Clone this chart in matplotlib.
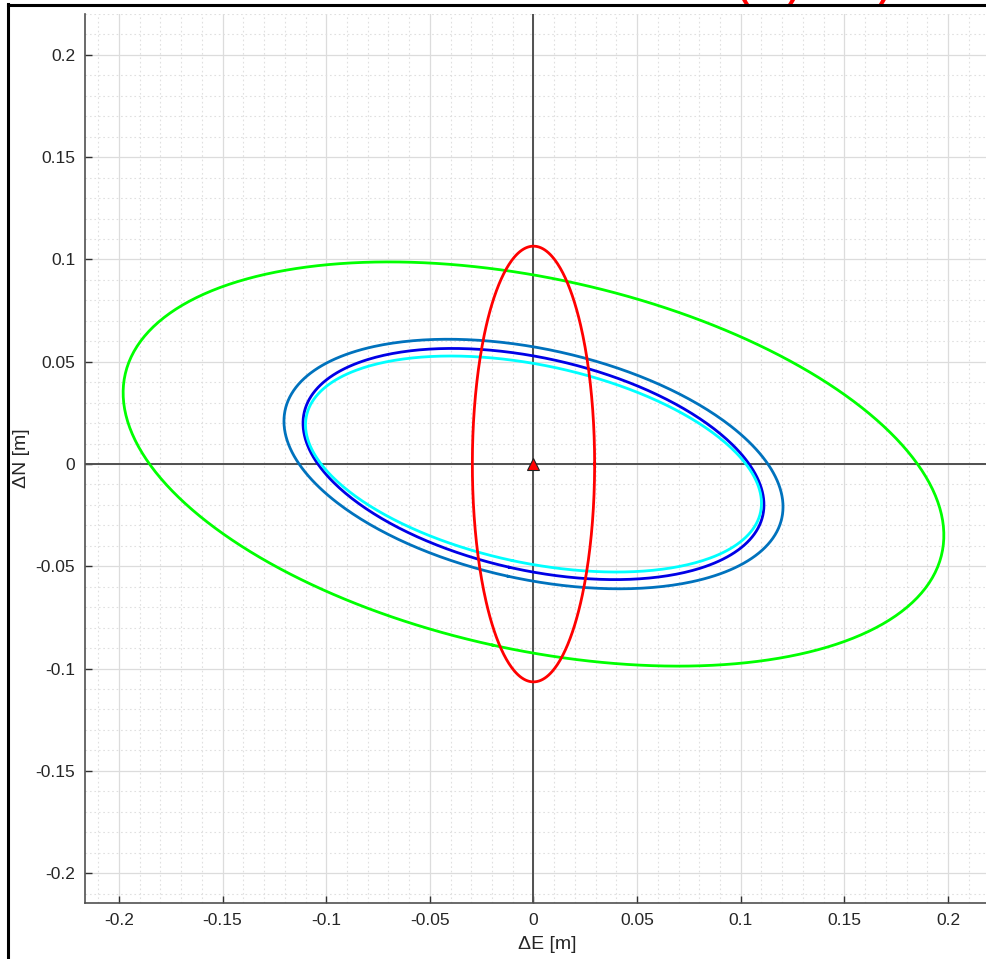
import numpy as np
import matplotlib
matplotlib.use("Agg")
import matplotlib.pyplot as plt
from matplotlib.lines import Line2D

# error ellipses: sigma E, sigma N [m] and covariance EN [m^2]
ell_names = ["green", "steel", "blue", "cyan", "red"]
ell_colors = ["#00ff00", "#0072bd", "#0000e6", "#00ffff", "#ff0000"]
sigma_e = [0.198, 0.1204, 0.1112, 0.110, 0.0295]
sigma_n = [0.0988, 0.061, 0.0565, 0.0528, 0.1065]
cov_en = [-0.00690, -0.00252, -0.00222, -0.00211, 0.0]

ticks = [-0.2, -0.15, -0.1, -0.05, 0, 0.05, 0.1, 0.15, 0.2]
tick_labels = ["-0.2", "-0.15", "-0.1", "-0.05", "0", "0.05", "0.1", "0.15", "0.2"]

plt.rcParams['font.family'] = ['Liberation Sans', 'DejaVu Sans']

W, H = 987, 959
fig = plt.figure(figsize=(W / 100, H / 100), dpi=100)

# axes box in pixels (the right side runs off the picture)
x0, x1 = -0.2164, 0.23
y0, y1 = -0.2146, 0.218
px_x = 2072.5
left_px, bottom_px, top_px = 85, 903, 14
width_px = (x1 - x0) * px_x
ax = fig.add_axes([left_px / W, (H - bottom_px) / H, width_px / W, (bottom_px - top_px) / H])

t = np.linspace(0, 2 * np.pi, 400)
circle = np.vstack([np.cos(t), np.sin(t)])

ax.axhline(0, color="#505050", lw=1.4, zorder=2)
ax.axvline(0, color="#505050", lw=1.4, zorder=2)

for name, col, se, sn, c in zip(ell_names, ell_colors, sigma_e, sigma_n, cov_en):
    cov = np.array([[se ** 2, c], [c, sn ** 2]])
    vals, vecs = np.linalg.eigh(cov)
    pts = vecs @ np.diag(np.sqrt(vals)) @ circle
    ax.plot(pts[0], pts[1], color=col, lw=2.0, zorder=3, label=name)

ax.plot([0], [0], marker="^", color="#ff0000", markeredgecolor="#202020",
        markersize=9, markeredgewidth=0.8, zorder=5)

ax.set_xlim(x0, x1)
ax.set_ylim(y0, y1)
ax.set_xticks(ticks)
ax.set_xticklabels(tick_labels)
ax.set_yticks(ticks)
ax.set_yticklabels(tick_labels)
ax.set_xticks(np.arange(-0.21, 0.231, 0.01), minor=True)
ax.set_yticks(np.arange(-0.21, 0.221, 0.01), minor=True)

ax.grid(True, which="major", color="#dcdcdc", lw=0.9)
ax.grid(True, which="minor", color="#e0e0e0", lw=0.8, linestyle=(0, (1.5, 2.5)))
ax.set_axisbelow(True)

for s in ["top", "right"]:
    ax.spines[s].set_visible(False)
for s in ["left", "bottom"]:
    ax.spines[s].set_color("#505050")
    ax.spines[s].set_linewidth(1.2)

ax.tick_params(which="major", direction="in", length=5, width=1, color="#303030",
               labelsize=12.5, labelcolor="#262626", pad=7)
ax.tick_params(which="minor", length=0)

ax.set_xlabel("ΔE [m]", fontsize=14, color="#262626", labelpad=6)
ax.set_ylabel("ΔN [m]", fontsize=14, color="#262626", labelpad=4)

# red title, mostly cut off by the top of the picture
fig.text(738 / W, 1 + 2.5 / H, "(ab) ENU)", color="#ff0000", fontsize=24,
         fontweight="bold", ha="left", va="baseline")

# frame round the picture
fig.add_artist(Line2D([8.5 / W, 8.5 / W], [0, 1 - 4 / H], color="black", lw=2.2,
                      transform=fig.transFigure))
fig.add_artist(Line2D([8.5 / W, 1], [1 - 5 / H, 1 - 5 / H], color="black", lw=2.2,
                      transform=fig.transFigure))

fig.savefig("out.png", dpi=100)
